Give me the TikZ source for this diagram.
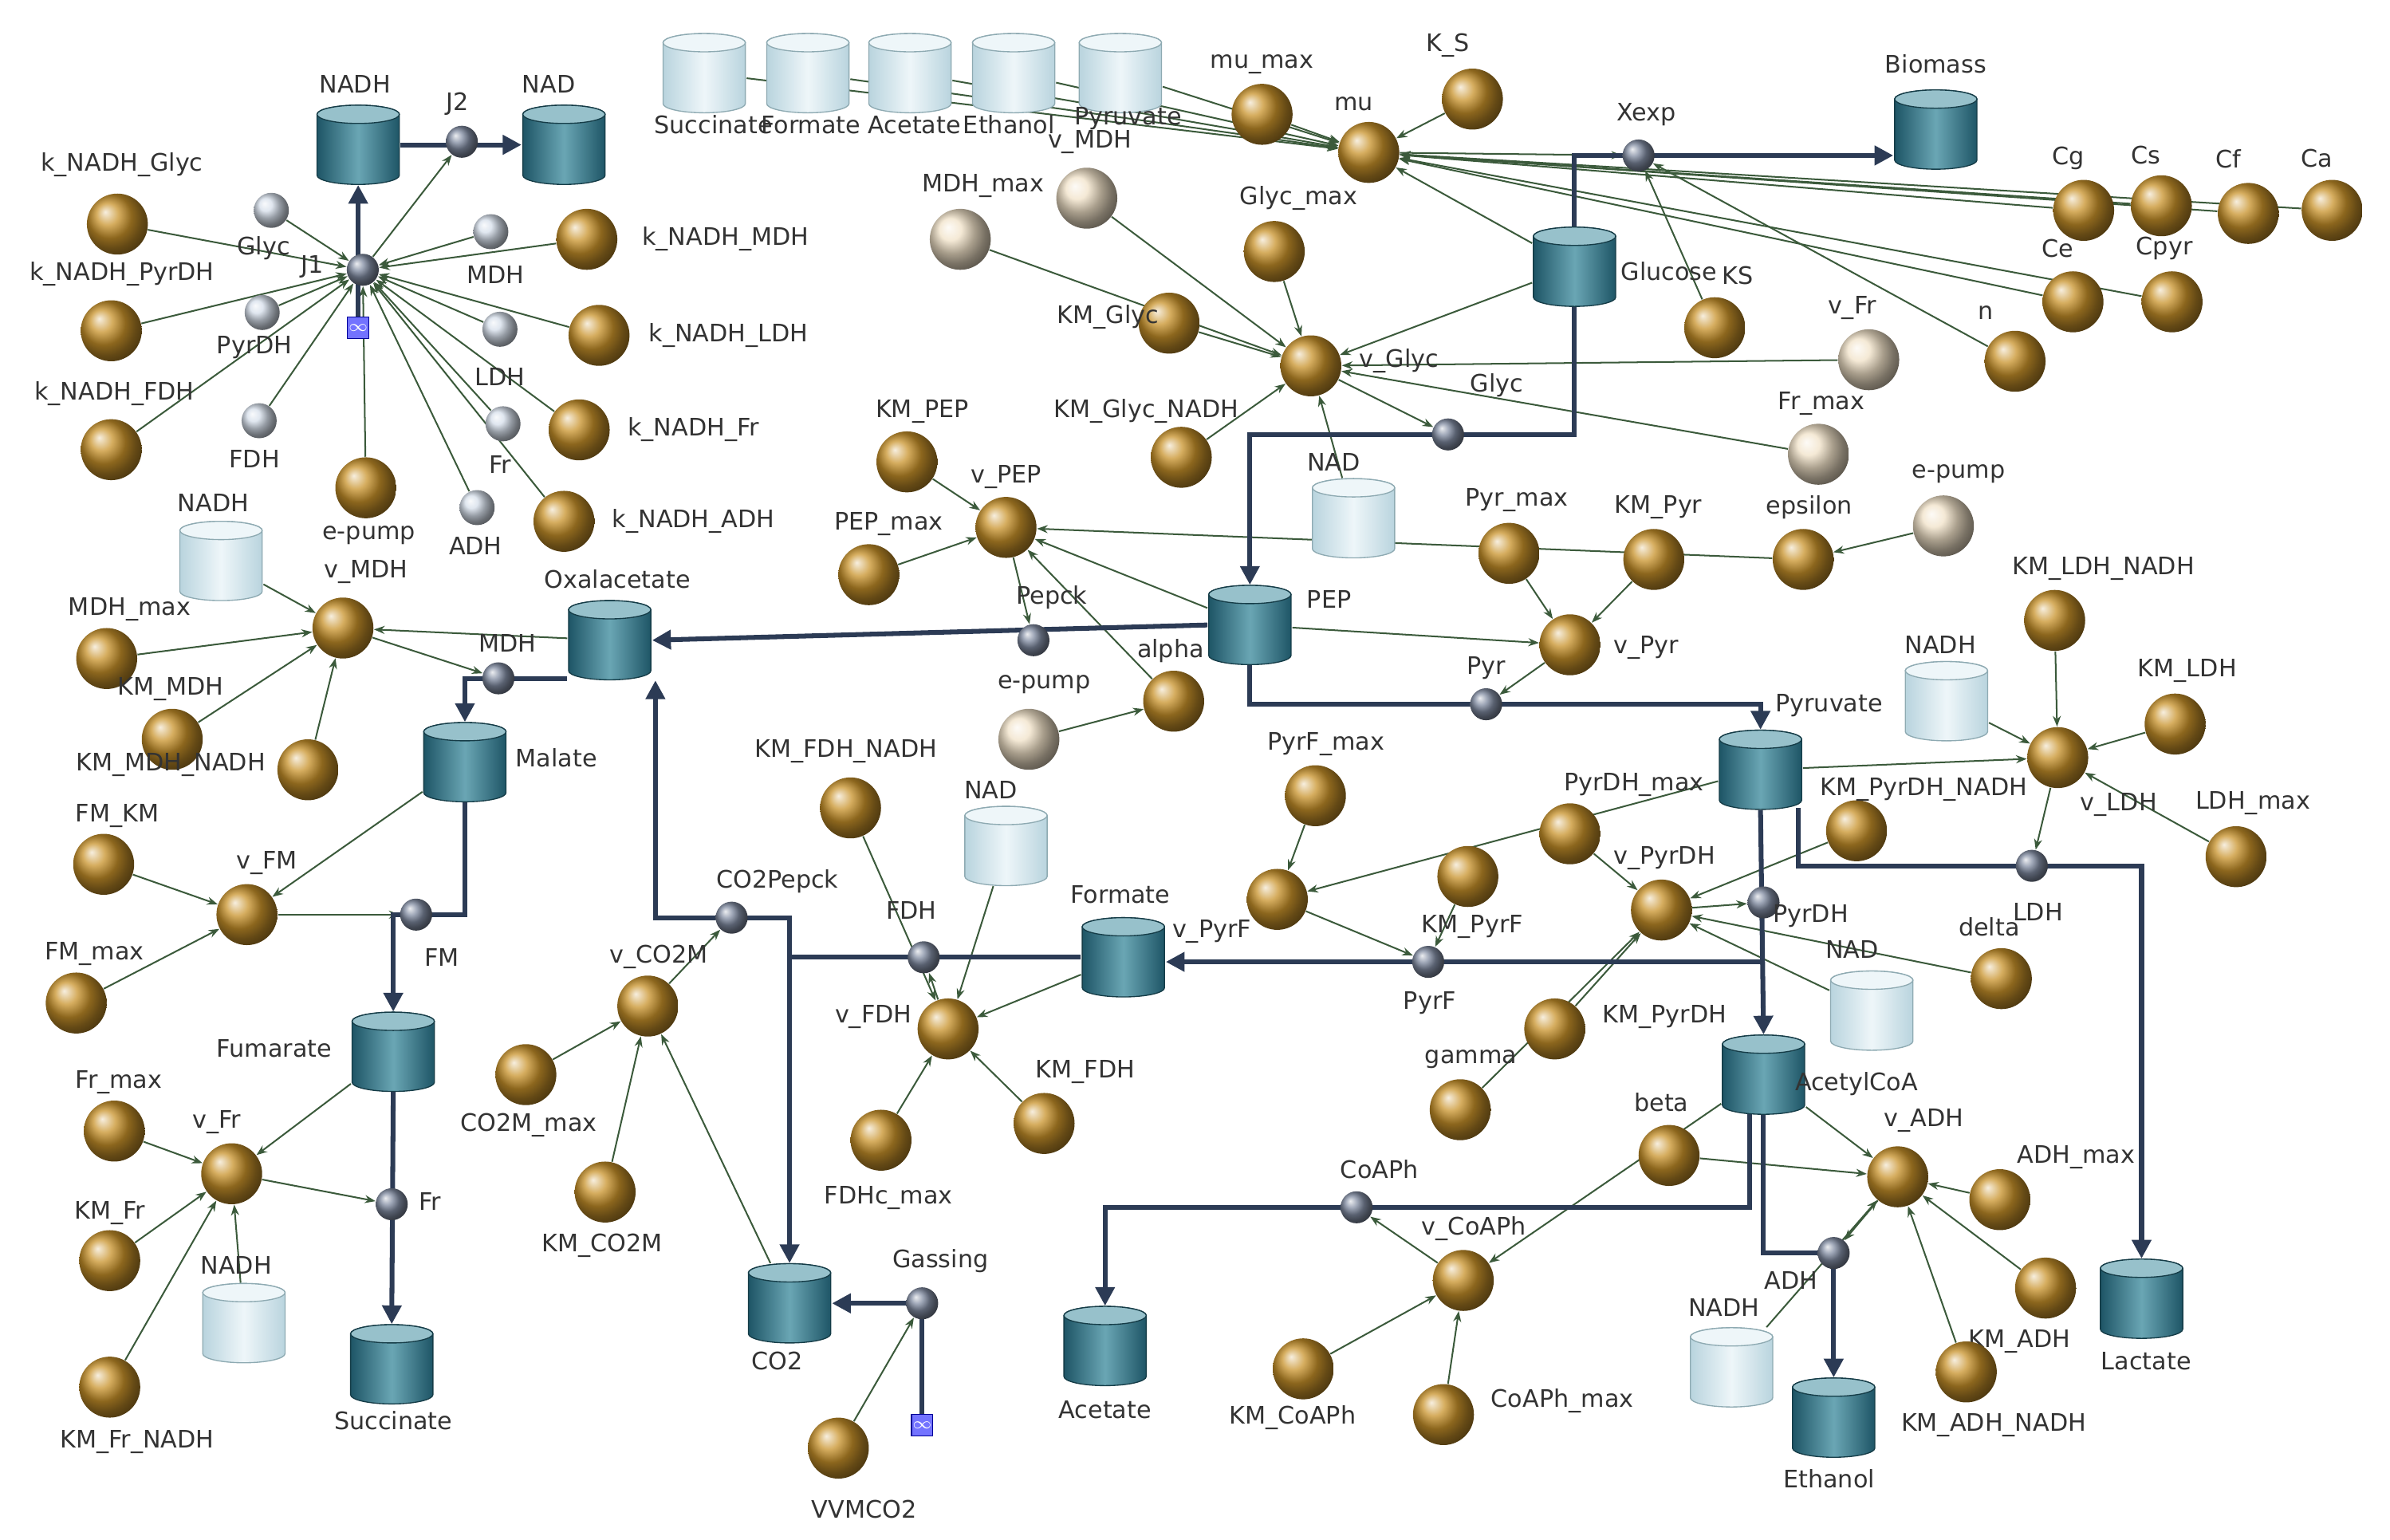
\documentclass[tikz,border=0pt]{standalone}
\usepackage{fontspec}
\setmainfont{DejaVu Sans}
\usetikzlibrary{arrows.meta,backgrounds}
\definecolor{goldb}{HTML}{C8922A}
\definecolor{creamb}{HTML}{F1E2C8}
\definecolor{valveb}{HTML}{7F8AA0}
\definecolor{whiteb}{HTML}{D5DEEA}
\definecolor{cyD}{HTML}{1E5566}
\definecolor{cyM}{HTML}{6AA6B4}
\definecolor{cyL}{HTML}{B9D4DE}
\definecolor{cyW}{HTML}{EEF6F9}
\definecolor{flowc}{HTML}{2C3B55}
\definecolor{linkc}{HTML}{3B5A3B}
\definecolor{labc}{HTML}{333333}
\tikzset{
  ball/.style={circle,inner sep=0pt,minimum size=0.8cm,ball color=goldb},
  cream/.style={circle,inner sep=0pt,minimum size=0.8cm,ball color=creamb},
  valve/.style={circle,inner sep=0pt,minimum size=0.42cm,ball color=valveb},
  swhite/.style={circle,inner sep=0pt,minimum size=0.46cm,ball color=whiteb},
  box/.style={rectangle,inner sep=0pt,minimum width=1.1cm,minimum height=1.04cm},
  stockbody/.style={draw=cyD!70!black,thin,left color=cyD,right color=cyD,middle color=cyM},
  stocktop/.style={draw=cyD!70!black,thin,fill=cyM!70!white},
  ghostbody/.style={draw=cyD!50,thin,left color=cyL,right color=cyL,middle color=cyW},
  ghosttop/.style={draw=cyD!50,thin,fill=cyW},
  lab/.style={text=labc,font=\fontsize{9}{10}\selectfont,inner sep=1pt},
  inf/.style={draw=blue!60!black,fill=blue!55!white,minimum size=0.28cm,inner sep=0pt,text=white,font=\fontsize{6}{6}\selectfont},
  flow/.style={draw=flowc,line width=1.8pt,-{Triangle[length=7pt,width=7pt]}},
  link/.style={draw=linkc,line width=0.6pt,-{Stealth[length=4pt,width=3pt]}}
}
\newcommand\bal[4]{\node[ball] (#1) at (#2) {}; \node[lab] (#1l) at (#3) {#4};}
\newcommand\crm[4]{\node[cream] (#1) at (#2) {}; \node[lab] (#1l) at (#3) {#4};}
\newcommand\vlv[4]{\node[valve] (#1) at (#2) {}; \node[lab] (#1l) at (#3) {#4};}
\newcommand\sml[4]{\node[swhite] (#1) at (#2) {}; \node[lab] (#1l) at (#3) {#4};}
\newcommand\cyl[3]{\begin{scope}[shift={(#1)}]
  \path[#2body] (-27,-20) -- (-27,20) arc[start angle=180,end angle=0,x radius=27,y radius=6]
    -- (27,-20) arc[start angle=0,end angle=-180,x radius=27,y radius=6] -- cycle;
  \path[#3top] (0,-20) ellipse[x radius=27,y radius=6];
  \end{scope}}
\newcommand\stk[4]{\cyl{#2}{stock}{stock}\node[box] (#1) at (#2) {}; \node[lab] (#1l) at (#3) {#4};}
\newcommand\gst[4]{\cyl{#2}{ghost}{ghost}\node[box] (#1) at (#2) {}; \node[lab] (#1l) at (#3) {#4};}
\begin{document}
\begin{tikzpicture}[x=0.02cm,y=-0.02cm]
\useasboundingbox (0,0) rectangle (1568,1010);
% stocks
\stk{nadhJ}{235,95}{233,55}{NADH}
\stk{nadJ}{370,95}{360,55}{NAD}
\stk{biomass}{1270,85}{1270,42}{Biomass}
\stk{glucose}{1033,175}{1095,178}{Glucose}
\stk{pep}{820,410}{872,393}{PEP}
\stk{oxa}{400,420}{405,380}{Oxalacetate}
\stk{malate}{305,500}{365,497}{Malate}
\stk{fuma}{258,690}{180,688}{Fumarate}
\stk{succ}{257,895}{258,932}{Succinate}
\stk{co2}{518,855}{510,893}{CO2}
\stk{acetate}{725,883}{725,925}{Acetate}
\stk{formate}{737,628}{735,587}{Formate}
\stk{pyruvate}{1155,505}{1200,463}{Pyruvate}
\stk{acoa}{1157,705}{1218,711}{AcetylCoA}
\stk{ethanol}{1203,930}{1200,970}{Ethanol}
\stk{lactate}{1405,852}{1408,893}{Lactate}
% ghosts
\gst{gSucc}{462,48}{468,82}{Succinate}
\gst{gForm}{530,48}{532,82}{Formate}
\gst{gAce}{597,48}{600,82}{Acetate}
\gst{gEth}{665,48}{662,82}{Ethanol}
\gst{gPyr}{735,48}{740,78}{Pyruvate}
\gst{gNadhM}{145,368}{140,330}{NADH}
\gst{gNadP}{888,340}{875,303}{NAD}
\gst{gNadF}{660,555}{650,518}{NAD}
\gst{gNadhL}{1277,460}{1273,423}{NADH}
\gst{gNadD}{1228,663}{1215,623}{NAD}
\gst{gNadhF}{160,868}{155,830}{NADH}
\gst{gNadhA}{1136,897}{1131,858}{NADH}
% valves
\vlv{J2}{303,93}{300,68}{J2}
\vlv{J1}{238,177}{205,175}{J1}
\node[inf] (infJ) at (235,215) {$\infty$};
\vlv{Xexp}{1075,102}{1080,75}{Xexp}
\vlv{Glyc}{950,285}{982,253}{Glyc}
\vlv{Pepck}{678,420}{690,392}{Pepck}
\vlv{MDH}{327,445}{333,422}{MDH}
\vlv{Pyr}{975,462}{975,438}{Pyr}
\vlv{FM}{273,600}{290,628}{FM}
\vlv{CO2Pepck}{480,602}{510,578}{CO2Pepck}
\vlv{FDH}{606,628}{598,597}{FDH}
\vlv{PyrF}{937,631}{938,658}{PyrF}
\vlv{PyrDH}{1157,592}{1188,601}{PyrDH}
\vlv{LDH}{1333,568}{1337,598}{LDH}
\vlv{Fr}{257,790}{282,788}{Fr}
\vlv{Gassing}{605,855}{617,827}{Gassing}
\node[inf] (infG) at (605,935) {$\infty$};
\vlv{CoAPh}{890,792}{905,767}{CoAPh}
\vlv{ADH}{1203,822}{1175,840}{ADH}
\coordinate (cpk) at (430,602);
\coordinate (lp) at (1180,530);
\coordinate (ca) at (1148,730);
% small ghosts
\sml{sGlyc}{178,138}{173,163}{Glyc}
\sml{sMDH}{322,152}{325,180}{MDH}
\sml{sPyrDH}{172,205}{167,228}{PyrDH}
\sml{sLDH}{328,216}{328,247}{LDH}
\sml{sFDH}{170,276}{167,301}{FDH}
\sml{sFr}{330,278}{328,305}{Fr}
\sml{sADH}{313,333}{312,358}{ADH}
% converters
\bal{kGlyc}{77,147}{80,108}{k\_NADH\_Glyc}
\bal{kPyrDH}{73,217}{80,180}{k\_NADH\_PyrDH}
\bal{kFDH}{73,295}{75,258}{k\_NADH\_FDH}
\bal{ePumpJ}{240,320}{242,351}{e-pump}
\bal{kMDH}{385,157}{476,157}{k\_NADH\_MDH}
\bal{kLDH}{393,220}{478,220}{k\_NADH\_LDH}
\bal{kFr}{380,282}{455,282}{k\_NADH\_Fr}
\bal{kADH}{370,342}{455,342}{k\_NADH\_ADH}
\bal{muMax}{828,75}{828,42}{mu\_max}
\bal{mu}{898,100}{888,68}{mu}
\bal{KS}{966,65}{950,30}{K\_S}
\bal{glycMax}{836,165}{852,130}{Glyc\_max}
\bal{kmGlyc}{767,212}{727,208}{KM\_Glyc}
\bal{vGlyc}{860,240}{918,237}{v\_Glyc}
\bal{kmGlycN}{775,300}{752,270}{KM\_Glyc\_NADH}
\bal{KSx}{1125,215}{1140,181}{KS}
\bal{n}{1322,237}{1303,205}{n}
\bal{Cg}{1367,138}{1357,104}{Cg}
\bal{Cs}{1418,135}{1408,102}{Cs}
\bal{Cf}{1475,140}{1462,104}{Cf}
\bal{Ca}{1530,138}{1520,104}{Ca}
\bal{Ce}{1360,198}{1350,163}{Ce}
\bal{Cpyr}{1425,198}{1420,163}{Cpyr}
\bal{kmPEP}{595,303}{605,270}{KM\_PEP}
\bal{vPEP}{660,346}{660,313}{v\_PEP}
\bal{pepMax}{570,377}{583,344}{PEP\_max}
\bal{pyrMax}{990,363}{995,328}{Pyr\_max}
\bal{kmPyr}{1085,367}{1088,333}{KM\_Pyr}
\bal{epsilon}{1183,367}{1187,333}{epsilon}
\bal{vPyr}{1030,423}{1080,425}{v\_Pyr}
\bal{alpha}{770,460}{768,427}{alpha}
\bal{vMDH}{225,412}{240,375}{v\_MDH}
\bal{mdhMax}{70,432}{85,400}{MDH\_max}
\bal{kmMDH}{113,485}{112,452}{KM\_MDH}
\bal{kmMDHN}{202,505}{112,502}{KM\_MDH\_NADH}
\bal{fmKM}{68,567}{77,535}{FM\_KM}
\bal{vFM}{162,600}{175,566}{v\_FM}
\bal{fmMax}{50,658}{62,626}{FM\_max}
\bal{frMax}{75,742}{78,710}{Fr\_max}
\bal{vFr}{152,770}{142,736}{v\_Fr}
\bal{kmFr}{72,827}{72,796}{KM\_Fr}
\bal{kmFrN}{72,910}{90,946}{KM\_Fr\_NADH}
\bal{kmFDHN}{558,530}{555,493}{KM\_FDH\_NADH}
\bal{vCOM}{425,660}{432,628}{v\_CO2M}
\bal{coMax}{345,705}{347,738}{CO2M\_max}
\bal{kmCOM}{397,782}{395,817}{KM\_CO2M}
\bal{fdhMax}{578,748}{583,786}{FDHc\_max}
\bal{vFDH}{622,675}{573,667}{v\_FDH}
\bal{kmFDH}{685,737}{712,703}{KM\_FDH}
\bal{vvm}{550,950}{567,990}{VVMCO2}
\bal{pyrfMax}{863,522}{870,488}{PyrF\_max}
\bal{vPyrF}{838,590}{795,611}{v\_PyrF}
\bal{kmPyrF}{963,575}{966,608}{KM\_PyrF}
\bal{pyrdhMax}{1030,547}{1072,515}{PyrDH\_max}
\bal{vPyrDH}{1090,597}{1092,563}{v\_PyrDH}
\bal{kmPyrDHN}{1218,545}{1262,518}{KM\_PyrDH\_NADH}
\bal{kmPyrDH}{1020,675}{1092,667}{KM\_PyrDH}
\bal{gamma}{958,728}{965,695}{gamma}
\bal{delta}{1313,642}{1305,608}{delta}
\bal{kmLDHN}{1348,407}{1380,373}{KM\_LDH\_NADH}
\bal{kmLDH}{1427,475}{1435,440}{KM\_LDH}
\bal{vLDH}{1350,497}{1390,528}{v\_LDH}
\bal{ldhMax}{1467,562}{1478,527}{LDH\_max}
\bal{beta}{1095,758}{1090,723}{beta}
\bal{vADH}{1245,772}{1262,735}{v\_ADH}
\bal{adhMax}{1312,787}{1362,759}{ADH\_max}
\bal{kmADH}{1342,845}{1325,880}{KM\_ADH}
\bal{kmADHN}{1290,900}{1308,935}{KM\_ADH\_NADH}
\bal{vCoAPh}{960,840}{967,806}{v\_CoAPh}
\bal{kmCoAPh}{855,898}{848,930}{KM\_CoAPh}
\bal{coaphMax}{947,928}{1025,919}{CoAPh\_max}
\crm{cMDHmax}{630,157}{645,122}{MDH\_max}
\crm{cvMDH}{713,130}{715,93}{v\_MDH}
\crm{cvFr}{1226,236}{1215,202}{v\_Fr}
\crm{cFrMax}{1193,298}{1195,265}{Fr\_max}
\crm{cePump}{1275,345}{1285,311}{e-pump}
\crm{cePump2}{675,485}{685,449}{e-pump}
\begin{scope}[on background layer]
% information links
\foreach \s in {kGlyc,kPyrDH,kFDH,ePumpJ,kMDH,kLDH,kFr,kADH,sGlyc,sMDH,sPyrDH,sLDH,sFDH,sFr,sADH}
  \draw[link] (\s) -- (J1);
\draw[link] (J1) -- (J2);
\foreach \s in {muMax,KS,gSucc,gForm,gAce,gEth,gPyr,Cg,Cs,Cf,Ca,Ce,Cpyr,glucose}
  \draw[link] (\s) -- (mu);
\draw[link] (mu) -- (Xexp);
\draw[link] (KSx) -- (Xexp);
\draw[link] (n) -- (Xexp);
\foreach \s in {glycMax,kmGlyc,kmGlycN,cMDHmax,cvMDH,glucose,gNadP,cvFr,cFrMax}
  \draw[link] (\s) -- (vGlyc);
\draw[link] (vGlyc) -- (Glyc);
\foreach \s in {kmPEP,pepMax,pep,epsilon,alpha}
  \draw[link] (\s) -- (vPEP);
\draw[link] (vPEP) -- (Pepck);
\draw[link] (cePump2) -- (alpha);
\draw[link] (cePump) -- (epsilon);
\foreach \s in {pyrMax,kmPyr,pep}
  \draw[link] (\s) -- (vPyr);
\draw[link] (vPyr) -- (Pyr);
\foreach \s in {mdhMax,kmMDH,kmMDHN,gNadhM,oxa}
  \draw[link] (\s) -- (vMDH);
\draw[link] (vMDH) -- (MDH);
\foreach \s in {fmKM,fmMax,malate}
  \draw[link] (\s) -- (vFM);
\draw[link] (vFM) -- (FM);
\foreach \s in {frMax,kmFr,kmFrN,gNadhF,fuma}
  \draw[link] (\s) -- (vFr);
\draw[link] (vFr) -- (Fr);
\foreach \s in {coMax,kmCOM,co2}
  \draw[link] (\s) -- (vCOM);
\draw[link] (vCOM) -- (CO2Pepck);
\foreach \s in {kmFDHN,gNadF,fdhMax,kmFDH,formate}
  \draw[link] (\s) -- (vFDH);
\draw[link] (vFDH) -- (FDH);
\foreach \s in {pyrfMax,pyruvate}
  \draw[link] (\s) -- (vPyrF);
\draw[link] (vPyrF) -- (PyrF);
\draw[link] (kmPyrF) -- (PyrF);
\foreach \s in {pyrdhMax,kmPyrDHN,kmPyrDH,delta,gNadD,gamma}
  \draw[link] (\s) -- (vPyrDH);
\draw[link] (vPyrDH) -- (PyrDH);
\foreach \s in {kmLDHN,kmLDH,ldhMax,gNadhL,pyruvate}
  \draw[link] (\s) -- (vLDH);
\draw[link] (vLDH) -- (LDH);
\foreach \s in {kmCoAPh,coaphMax,acoa}
  \draw[link] (\s) -- (vCoAPh);
\draw[link] (vCoAPh) -- (CoAPh);
\foreach \s in {adhMax,kmADH,kmADHN,gNadhA,acoa,beta}
  \draw[link] (\s) -- (vADH);
\draw[link] (vADH) -- (ADH);
\draw[link] (vvm) -- (Gassing);
% flows
\draw[flow] (nadhJ) -- (nadJ);
\draw[flow] (infJ) -- (nadhJ);
\draw[flow] (glucose.north) -- (glucose.north |- Xexp) -- (biomass.west |- Xexp);
\draw[flow] (glucose.south) -- (glucose.south |- Glyc) -- (pep.north |- Glyc) -- (pep.north);
\draw[flow] (pep.west) -- (oxa.east);
\draw[flow] (pep.south) -- (pep.south |- Pyr) -- (pyruvate.north |- Pyr) -- (pyruvate.north);
\draw[flow] (oxa.west |- MDH) -- (malate.north |- MDH) -- (malate.north);
\draw[flow] (malate.south) -- (malate.south |- FM) -- (fuma.north |- FM) -- (fuma.north);
\draw[flow] (fuma.south) -- (succ.north);
\draw[flow] (co2.north |- formate.west) -- (co2.north |- CO2Pepck) -- (cpk) -- (cpk |- oxa.south);
\draw[flow] (formate.west) -- (co2.north |- formate.west) -- (co2.north);
\draw[flow] (pyruvate.south |- PyrF) -- (formate.east |- PyrF);
\draw[flow] (pyruvate.south) -- (acoa.north);
\draw[flow] (lp) -- (lp |- LDH) -- (lactate.north |- LDH) -- (lactate.north);
\draw[flow] (infG) -- (infG |- Gassing) -- (co2.east |- Gassing);
\draw[flow] (ca) -- (ca |- CoAPh) -- (acetate.north |- CoAPh) -- (acetate.north);
\draw[flow] (acoa.south) -- (acoa.south |- ADH) -- (ethanol.north |- ADH) -- (ethanol.north);
\end{scope}
\end{tikzpicture}
\end{document}
